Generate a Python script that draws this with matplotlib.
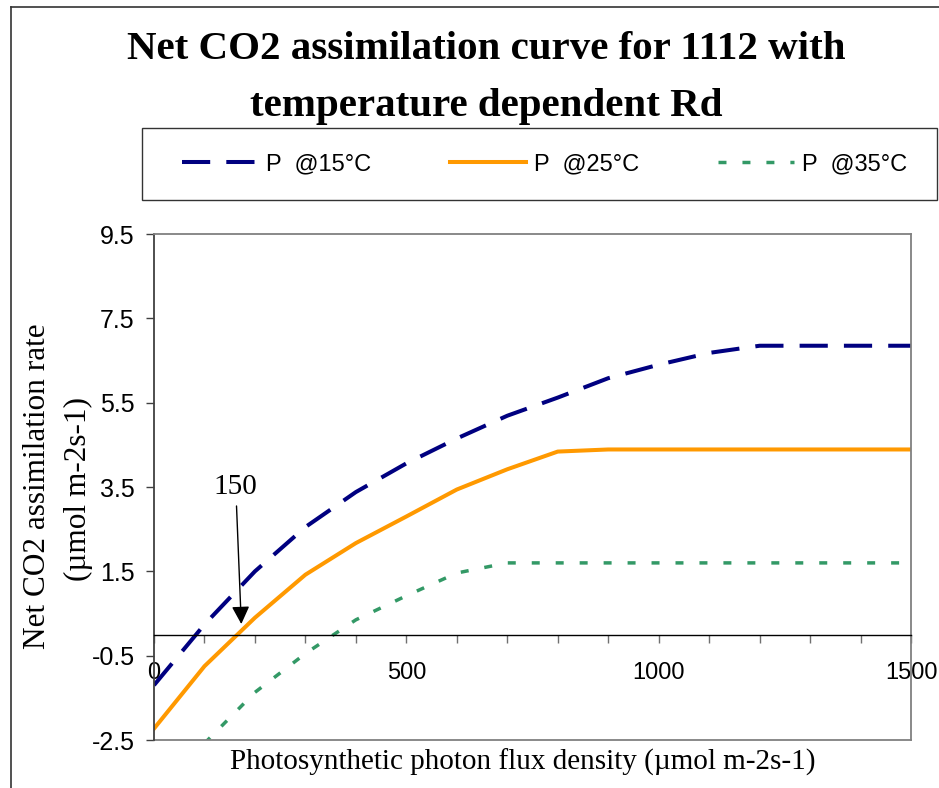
import numpy as np
import matplotlib
matplotlib.use('Agg')
import matplotlib.pyplot as plt
from matplotlib.lines import Line2D
from matplotlib.patches import Rectangle

# Du lieu doc tu hinh (PPFD, umol m-2 s-1)
ppfd = [0, 100, 200, 300, 400, 500, 600, 700, 800, 900, 1000, 1100, 1200, 1300, 1400, 1500]
p_15 = [-1.20, 0.24, 1.50, 2.55, 3.38, 4.06, 4.65, 5.19, 5.62, 6.08, 6.40, 6.68, 6.85, 6.85, 6.85, 6.85]
p_25 = [-2.23, -0.75, 0.40, 1.42, 2.17, 2.80, 3.44, 3.92, 4.34, 4.39, 4.39, 4.39, 4.39, 4.39, 4.39, 4.39]
# gia tri tai 0 nam ngoai truc y nen bo trong
p_35 = [np.nan, -2.58, -1.37, -0.45, 0.35, 0.92, 1.46, 1.70, 1.70, 1.70, 1.70, 1.70, 1.70, 1.70, 1.70, 1.70]

series_labels = ['P  @15°C', 'P  @25°C', 'P  @35°C']
y_ticks = [-2.5, -0.5, 1.5, 3.5, 5.5, 7.5, 9.5]
x_major = [0, 500, 1000, 1500]
x_minor = list(range(0, 1600, 100))

title_lines = ['Net CO2 assimilation curve for 1112 with', 'temperature dependent Rd']
ylabel_lines = ['Net CO2 assimilation rate', '(µmol m-2s-1)']
xlabel = 'Photosynthetic photon flux density (µmol m-2s-1)'

SERIF = 'Liberation Serif'
SANS = 'Liberation Sans'

W, H = 939, 788


def fx(px):
    return px / W


def fy(py):
    return 1 - py / H


def main():
    fig = plt.figure(figsize=(W / 100, H / 100), dpi=100)
    ax = fig.add_axes([fx(154), fy(740), fx(911) - fx(154), fy(234) - fy(740)])

    # Ve 3 duong
    l15, = ax.plot(ppfd, p_15, color='#000080', lw=2.9, dashes=(7, 4))
    l25, = ax.plot(ppfd, p_25, color='#FF9900', lw=2.9)
    l35, = ax.plot(ppfd, p_35, color='#339966', lw=2.5, dashes=(2.3, 4.6))

    ax.set_xlim(0, 1500)
    ax.set_ylim(-2.5, 9.5)

    # Truc x nam tai y = 0
    ax.spines['bottom'].set_position(('data', 0))
    ax.spines['bottom'].set_color('black')
    ax.spines['bottom'].set_linewidth(1.0)
    ax.spines['left'].set_color('#404040')
    ax.spines['left'].set_linewidth(1.3)
    for s in ['top', 'right']:
        ax.spines[s].set_color('#808080')
        ax.spines[s].set_linewidth(1.3)
    # khung duoi cua vung ve
    ax.plot([0, 1], [0, 0], transform=ax.transAxes, color='#808080', lw=1.3, clip_on=False)

    ax.set_xticks(x_major)
    ax.set_xticks(x_minor, minor=True)
    ax.set_xticklabels([str(v) for v in x_major], fontfamily=SANS, fontsize=17)
    ax.tick_params(axis='x', which='both', direction='out', length=5.8, width=1, color='#707070')
    ax.tick_params(axis='x', which='major', pad=14)

    ax.set_yticks(y_ticks)
    ax.set_yticklabels([f'{v:.1f}' for v in y_ticks], fontfamily=SANS, fontsize=18)
    ax.tick_params(axis='y', direction='out', length=5.8, width=1, color='#404040', pad=8)

    # Chu thich diem 150
    ax.annotate('150', xy=(173, 0.25), xytext=(162, 3.49), ha='center', va='center',
                fontfamily=SERIF, fontsize=21,
                arrowprops=dict(arrowstyle='-|>,head_length=0.4,head_width=0.2',
                                color='black', lw=1.0, mutation_scale=27, shrinkA=2, shrinkB=0))

    # Tieu de va nhan truc
    fig.text(fx(486), fy(59), title_lines[0], ha='center', va='baseline',
             fontfamily=SERIF, fontweight='bold', fontsize=29.5)
    fig.text(fx(486), fy(116), title_lines[1], ha='center', va='baseline',
             fontfamily=SERIF, fontweight='bold', fontsize=29.5)
    fig.text(fx(38), fy(486), ylabel_lines[0], rotation=90, ha='center', va='center',
             fontfamily=SERIF, fontsize=22.5)
    fig.text(fx(78), fy(489), ylabel_lines[1], rotation=90, ha='center', va='center',
             fontfamily=SERIF, fontsize=22.5)
    fig.text(fx(523), fy(770), xlabel, ha='center', va='baseline',
             fontfamily=SERIF, fontsize=21)

    # Khung legend
    fig.add_artist(Rectangle((fx(142), fy(200)), fx(937) - fx(142), fy(128) - fy(200),
                             transform=fig.transFigure, fill=False, edgecolor='#333333', lw=1.0))
    fig.legend([l15, l25, l35], series_labels, loc='center',
               bbox_to_anchor=(fx(182), fy(200), fx(907) - fx(182), fy(128) - fy(200)),
               mode='expand', ncol=3, frameon=False, borderpad=0, borderaxespad=0,
               handlelength=3.2, handletextpad=0.35,
               prop={'family': SANS, 'size': 17})

    # Khung ngoai cua bieu do
    fig.add_artist(Line2D([fx(11), fx(11)], [0, fy(7)], transform=fig.transFigure,
                          color='#333333', lw=1.2))
    fig.add_artist(Line2D([fx(11), 1], [fy(7), fy(7)], transform=fig.transFigure,
                          color='#333333', lw=1.2))

    fig.savefig('out.png', dpi=100)


if __name__ == "__main__":
    main()
